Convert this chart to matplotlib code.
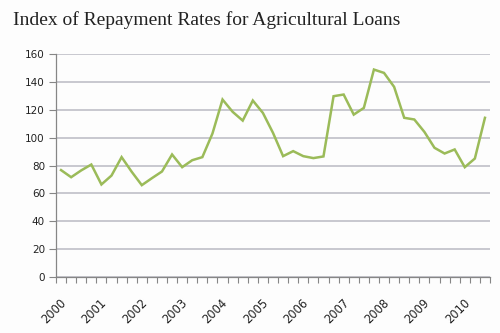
import matplotlib
matplotlib.use("Agg")
import matplotlib.pyplot as plt
import numpy as np

years = ["2000", "2001", "2002", "2003", "2004", "2005", "2006", "2007", "2008", "2009", "2010"]
values = [76.7, 71.6, 76.5, 80.7, 66.4, 72.8, 86.0, 75.5, 65.9, 70.9, 75.7, 87.9,
          78.8, 83.8, 86.0, 102.9, 127.3, 118.5, 112.2, 126.6, 117.7, 103.4, 86.7, 90.3,
          86.7, 85.3, 86.5, 129.7, 130.9, 116.5, 121.3, 148.8, 146.4, 136.4, 114.2, 113.0,
          104.1, 92.7, 88.6, 91.5, 78.8, 85.0, 114.2]
title = "Index of Repayment Rates for Agricultural Loans"

fig = plt.figure(figsize=(5, 3.33), dpi=100, facecolor="#fdfdfd")
ax = fig.add_axes([0.112, 0.168, 0.868, 0.670])
ax.set_facecolor("#fdfdfd")

n = len(values)
x = np.arange(n)
ax.plot(x, values, color="#9bbb59", lw=1.8, solid_joinstyle="miter")

ax.set_xlim(-0.5, n - 0.5)
ax.set_ylim(0, 160)
ax.set_yticks(np.arange(0, 161, 20))
ax.yaxis.grid(True, color="#c4c4cc", lw=1.3)
ax.set_axisbelow(True)

for s in ["top", "right"]:
    ax.spines[s].set_visible(False)
for s in ["left", "bottom"]:
    ax.spines[s].set_color("#868686")
    ax.spines[s].set_linewidth(0.9)

ax.set_xticks(np.arange(-0.5, n, 1.0))
ax.set_xticklabels([])
ax.tick_params(axis="x", length=4, color="#868686", width=0.8, direction="out")
ax.tick_params(axis="y", length=5, color="#868686", width=0.8, labelsize=7.5, pad=3)
for lbl in ax.get_yticklabels():
    lbl.set_family("DejaVu Sans")
    lbl.set_color("#222222")

for i, yr in enumerate(years):
    ax.annotate(yr, xy=(4 * i, 0), xycoords=("data", "axes fraction"),
                xytext=(-1, -14), textcoords="offset points",
                rotation=45, ha="right", va="top", rotation_mode="anchor",
                fontsize=8.3, family="DejaVu Sans", color="#222222")

fig.text(0.026, 0.925, title, fontsize=14, family="Liberation Serif",
         color="#222222", ha="left", va="baseline")

fig.savefig("out.png", dpi=100, facecolor=fig.get_facecolor())
